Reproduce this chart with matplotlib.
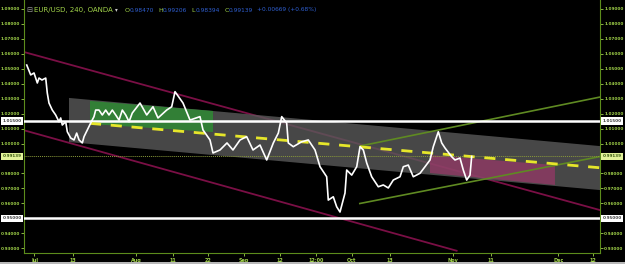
import matplotlib
matplotlib.use("Agg")
import matplotlib.pyplot as plt
from matplotlib.patches import Polygon, Rectangle
from matplotlib.transforms import blended_transform_factory

# ---------------- data (x = trading days since Jul 1, y = EUR/USD price) -------------
price_days = [-1.56, -0.74, -0.06, 0.62, 0.97, 1.58, 2.35, 2.67, 3.02, 3.70, 4.40, 5.08,
              5.43, 5.76, 6.46, 6.79, 7.49, 8.17, 8.72, 9.20, 9.88, 10.23, 10.91, 11.60,
              12.28, 12.63, 13.31, 13.99, 14.69, 15.37, 16.05, 16.75, 17.43, 18.11, 18.81,
              19.49, 20.16, 21.75, 23.13, 24.42, 25.45, 27.24, 28.27, 28.95, 30.60, 32.04,
              34.09, 34.71, 36.15, 36.77, 38.21, 39.65, 40.88, 42.33, 43.70, 45.00, 46.44,
              47.82, 49.18, 50.21, 50.91, 51.93, 52.26, 53.29, 55.02, 56.38, 57.76, 58.79,
              60.16, 60.49, 61.52, 62.22, 62.90, 63.93, 64.28, 65.31, 66.34, 67.02, 67.70,
              68.40, 69.42, 70.78, 71.81, 72.84, 73.87, 75.25, 75.93, 76.95, 77.98, 79.36,
              80.39, 81.42, 82.10, 83.13, 83.83, 84.51, 85.88, 86.56, 87.59, 88.27, 88.97,
              89.65, 90.00]
price_vals = [1.0525, 1.0459, 1.0472, 1.0405, 1.0438, 1.0425, 1.0438, 1.0338, 1.0271, 1.0224,
              1.0191, 1.0146, 1.0171, 1.0124, 1.0146, 1.0079, 1.0037, 1.0024, 1.0070, 1.0024,
              1.0004, 1.0046, 1.0091, 1.0137, 1.0180, 1.0224, 1.0224, 1.0191, 1.0224, 1.0191,
              1.0224, 1.0191, 1.0157, 1.0224, 1.0191, 1.0146, 1.0204, 1.0271, 1.0191, 1.0246,
              1.0171, 1.0224, 1.0246, 1.0347, 1.0271, 1.0157, 1.0180, 1.0091, 1.0024, 0.9937,
              0.9957, 1.0004, 0.9957, 1.0024, 1.0046, 0.9957, 0.9990, 0.9890, 1.0004, 1.0070,
              1.0180, 1.0137, 1.0004, 0.9979, 1.0012, 1.0024, 0.9957, 0.9845, 0.9778, 0.9622,
              0.9644, 0.9577, 0.9542, 0.9669, 0.9823, 0.9789, 0.9845, 0.9979, 0.9957, 0.9870,
              0.9778, 0.9711, 0.9723, 0.9703, 0.9756, 0.9778, 0.9845, 0.9856, 0.9778, 0.9801,
              0.9845, 0.9890, 0.9979, 1.0079, 1.0004, 0.9970, 0.9912, 0.9890, 0.9903, 0.9823,
              0.9756, 0.9789, 0.9914]

# drawings
maroon_upper = ([-2.33, 116.4], [1.0614, 0.9555])
maroon_lower = ([-2.26, 86.9], [1.0090, 0.9283])
gray_band = [(7.14, 1.0305), (116.4, 0.9983), (116.4, 0.9689), (7.14, 1.0010)]
green_box = [(11.46, 1.0285), (36.77, 1.0218), (36.77, 1.0077), (11.46, 1.0131)]
pink_box = [(81.42, 0.9923), (107.13, 0.9856), (107.13, 0.9723), (81.42, 0.9803)]
yellow_trend = ([11.46, 116.4], [1.0135, 0.9838])
olive_upper = ([66.98, 116.4], [0.9983, 1.0311])
olive_lower = ([66.98, 116.4], [0.9599, 0.9913])
h_levels = [1.015, 0.95]
last_close = 0.99139

y_ticks = [1.09, 1.08, 1.07, 1.06, 1.05, 1.04, 1.03, 1.02, 1.01, 1.00, 0.98, 0.97, 0.96, 0.94, 0.93]
x_tick_pos = [0, 7.9, 20.9, 28.6, 35.8, 43.1, 50.6, 57.9, 65.3, 73.2, 86.2, 94.0, 107.8, 115.0]
x_tick_lab = ["Jul", "13", "Aug", "11", "22", "Sep", "12", "12:00", "Oct", "13", "Nov", "11", "Dec", "12"]

header_title = "EUR/USD, 240, OANDA"
ohlc_labels = ["O", "H", "L", "C"]
ohlc_vals = ["0.98470", "0.99206", "0.98394", "0.99139"]
change_text = "+0.00669 (+0.68%)"

# ---------------- styling ----------------
W, H = 625, 264
GREEN_TXT = "#a2d44a"
AXIS_COL = "#5c8c1c"
BLUE_TXT = "#2f5fd0"
TICK_FS = 3.0

fig = plt.figure(figsize=(W / 100, H / 100), dpi=100, facecolor="black")
ax = fig.add_axes([24 / W, 11 / H, 576 / W, 253 / H])
ax.set_facecolor("black")
ax.set_xlim(-2.12, 116.4)
ax.set_ylim(0.9268, 1.0960)

# shapes
ax.plot(*maroon_upper, color="#7a0f45", lw=1.3, zorder=1)
ax.plot(*maroon_lower, color="#7a0f45", lw=1.3, zorder=1)
ax.add_patch(Polygon(gray_band, closed=True, facecolor="#5a5a5a", alpha=0.8, edgecolor="none", zorder=2))
ax.add_patch(Polygon(green_box, closed=True, facecolor="#2f8a34", alpha=0.85, edgecolor="none", zorder=3))
ax.add_patch(Polygon(pink_box, closed=True, facecolor="#a8336e", alpha=0.6, edgecolor="none", zorder=3))

ax.plot(*olive_upper, color="#5f8a22", lw=1.2, zorder=3)
ax.plot(*olive_lower, color="#5f8a22", lw=1.2, zorder=3)

for lv in h_levels:
    ax.axhline(lv, color="white", lw=1.8, zorder=4)
ax.axhline(last_close, color="#8a9a3a", lw=0.7, ls=(0, (1, 1)), zorder=4)

ax.plot(*yellow_trend, color="#e6e62a", lw=2.0, ls=(0, (4, 3.5)), zorder=4)

ax.plot(price_days, price_vals, color="white", lw=1.2, zorder=6)

# axes styling
ax.spines["top"].set_visible(False)
for s in ["left", "right", "bottom"]:
    ax.spines[s].set_color(AXIS_COL)
    ax.spines[s].set_linewidth(0.8)

ax.set_yticks(y_ticks)
ax.set_yticklabels([f"{v:.5f}" for v in y_ticks])
ax.set_xticks(x_tick_pos)
ax.set_xticklabels(x_tick_lab)
ax.tick_params(axis="y", which="both", left=True, right=True, labelleft=True, labelright=True,
               colors=GREEN_TXT, labelsize=TICK_FS, length=2, width=0.6, pad=1)
ax.tick_params(axis="x", colors=GREEN_TXT, labelsize=3.5, length=2, width=0.6, pad=1.5)
for lab in ax.get_yticklabels() + ax.get_xticklabels():
    lab.set_fontweight("bold")

# price label boxes on both axes
tl = blended_transform_factory(ax.transAxes, ax.transData)
def price_box(val, fc, tc):
    ax.text(-0.004, val, f"{val:.5f}", transform=tl, ha="right", va="center", fontsize=TICK_FS,
            color=tc, fontweight="bold",
            bbox=dict(boxstyle="square,pad=0.4", fc=fc, ec="none"), zorder=10, clip_on=False)
    ax.text(1.004, val, f"{val:.5f}", transform=tl, ha="left", va="center", fontsize=TICK_FS,
            color=tc, fontweight="bold",
            bbox=dict(boxstyle="square,pad=0.4", fc=fc, ec="none"), zorder=10, clip_on=False)

for lv in h_levels:
    price_box(lv, "white", "#404040")
price_box(last_close, "#e2f29a", "#3a5a10")

# header
def ftxt(xpx, s, color, size, weight="normal"):
    fig.text(xpx / W, 1 - 10 / H, s, color=color, fontsize=size, fontweight=weight,
             ha="left", va="center")

ftxt(26, "⊟", "#9a9a9a", 5.2)
ftxt(34.5, header_title, GREEN_TXT, 5.0)
ftxt(114.5, "▾", "#cccccc", 4.0)
ox = [125, 158.5, 191, 224.5]
for xp, l, v in zip(ox, ohlc_labels, ohlc_vals):
    ftxt(xp, l, GREEN_TXT, 4.6)
    ftxt(xp + 4.3, v, BLUE_TXT, 4.2)
ftxt(257, change_text, BLUE_TXT, 4.2)

# bottom border
fig.add_artist(Rectangle((0, 0), 1, 2 / H, transform=fig.transFigure, facecolor="#b8b8b8",
                         edgecolor="none"))

fig.savefig("out.png", dpi=100, facecolor="black")
